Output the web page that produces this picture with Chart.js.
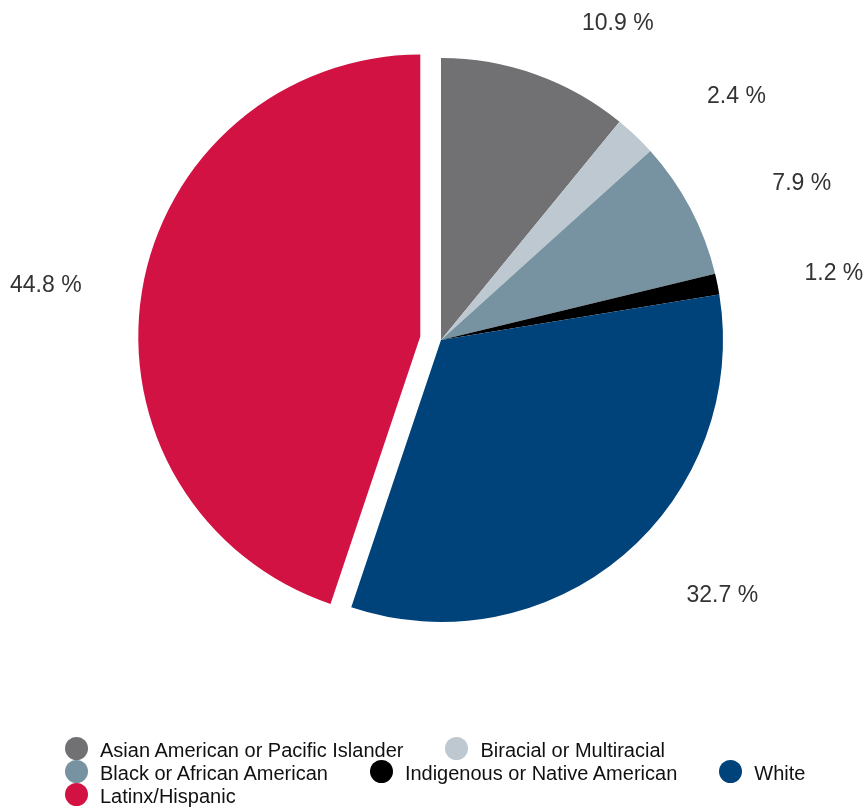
<!DOCTYPE html>
<html>
<head>
<meta charset="utf-8">
<script src="https://cdn.jsdelivr.net/npm/chart.js@4"></script>
<style>
  body { margin: 0; background: #fff; font-family: "Liberation Sans", Arial, sans-serif; }
  #wrap { position: relative; width: 864px; height: 811px; }
  #pie { position: absolute; left: 0; top: 0; }
  #legend { position: absolute; left: 65px; top: 737px; }
  .row { display: flex; gap: 42px; height: 23px; align-items: center; }
  .item { display: flex; align-items: center; }
  .dot { width: 23px; height: 23px; border-radius: 50%; margin-right: 12px; }
  .txt { font-size: 20px; line-height: 23px; color: #111; position: relative; top: 2px; white-space: nowrap; }
</style>
</head>
<body>
<div id="wrap">
  <canvas id="pie" width="864" height="811"></canvas>
  <div id="legend"></div>
</div>
<script>
const labels = ['Asian American or Pacific Islander', 'Biracial or Multiracial', 'Black or African American',
  'Indigenous or Native American', 'White', 'Latinx/Hispanic'];
const shares = [10.9, 2.4, 7.9, 1.2, 32.7, 44.8];
const colors = ['#717072', '#bec8d1', '#7793a2', '#000000', '#00427a', '#d21242'];
const explode = [0, 0, 0, 0, 0, 21];
// which legend entries sit on which line
const legendRows = [[0, 1], [2, 3, 4], [5]];

// Chart.js "offset" also grows the slice, so pull the slice out by moving its centre instead
const explodeSlices = {
  id: 'explodeSlices',
  beforeDatasetsDraw(chart) {
    const a = chart.chartArea;
    const cx = (a.left + a.right) / 2, cy = (a.top + a.bottom) / 2;
    chart.getDatasetMeta(0).data.forEach((arc, i) => {
      const mid = (arc.startAngle + arc.endAngle) / 2;
      arc.x = cx + Math.cos(mid) * explode[i];
      arc.y = cy + Math.sin(mid) * explode[i];
    });
  }
};

const pctLabels = {
  id: 'pctLabels',
  afterDatasetsDraw(chart) {
    const ctx = chart.ctx;
    const a = chart.chartArea;
    const cx = (a.left + a.right) / 2, cy = (a.top + a.bottom) / 2;
    ctx.save();
    ctx.font = '23px "Liberation Sans", Arial, sans-serif';
    ctx.fillStyle = '#333333';
    ctx.textAlign = 'center';
    ctx.textBaseline = 'middle';
    chart.getDatasetMeta(0).data.forEach((arc, i) => {
      const mid = (arc.startAngle + arc.endAngle) / 2;
      const d = arc.outerRadius * 1.19;
      const side = Math.cos(mid) >= 0 ? 1 : -1;
      const x = cx + Math.cos(mid) * d + side * 64;
      const y = cy + Math.sin(mid) * d;
      ctx.fillText(shares[i].toFixed(1) + ' %', x, y);
    });
    ctx.restore();
  }
};

new Chart(document.getElementById('pie'), {
  type: 'pie',
  data: {
    labels: labels,
    datasets: [{
      data: shares,
      backgroundColor: colors,
      borderWidth: 0,
      radius: 282
    }]
  },
  options: {
    responsive: false,
    animation: false,
    layout: { padding: { left: 18, right: 0, top: 0, bottom: 131 } },
    plugins: {
      legend: { display: false },
      tooltip: { enabled: false }
    }
  },
  plugins: [explodeSlices, pctLabels]
});

const legend = document.getElementById('legend');
legendRows.forEach(row => {
  const r = document.createElement('div');
  r.className = 'row';
  row.forEach(i => {
    const it = document.createElement('div');
    it.className = 'item';
    it.innerHTML = '<span class="dot" style="background:' + colors[i] + '"></span><span class="txt">' + labels[i] + '</span>';
    r.appendChild(it);
  });
  legend.appendChild(r);
});
</script>
</body>
</html>
